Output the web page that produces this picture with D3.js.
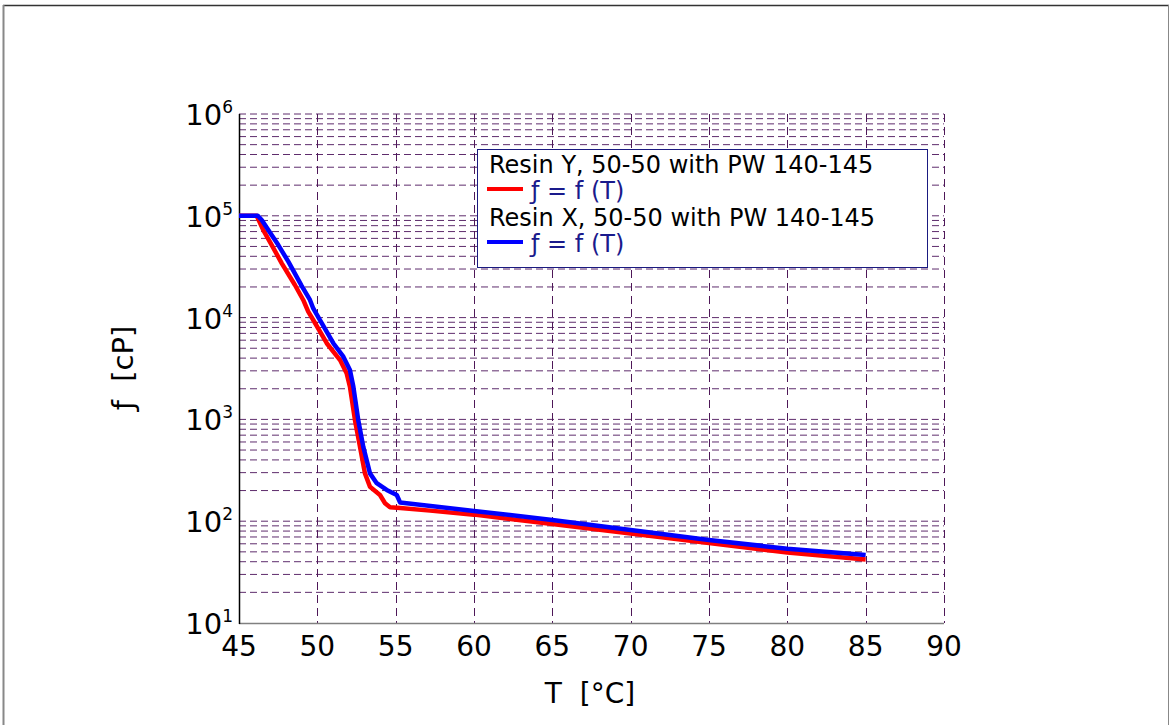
<!DOCTYPE html>
<html>
<head>
<meta charset="utf-8">
<script src="https://cdn.jsdelivr.net/npm/d3@7/dist/d3.min.js"></script>
<style>
  html, body { margin: 0; padding: 0; background: #ffffff; }
  svg { display: block; }
  text { font-family: "DejaVu Sans", sans-serif; }
</style>
</head>
<body>
<svg id="chart" width="1172" height="725"></svg>
<script>
// Viscosity vs temperature, two resin blends (50-50 with PW 140-145)
const tempY = [45, 46.13, 46.55, 47.09, 47.73, 48.57, 49.10, 49.42, 49.74, 50.60, 51.45, 51.87, 52.08, 52.40, 52.72, 53.04, 53.36, 54.00, 54.32, 54.64, 55.3, 57.2, 60, 65, 70, 75, 80, 85];
const viscY = [100000, 100000, 72400, 51600, 34100, 20900, 14900, 11430, 9470, 5600, 3830, 2840, 2095, 986, 540, 295, 218, 181, 150, 137, 135, 127, 116, 93.9, 75.7, 61.1, 49.3, 42.0];

const tempX = [45, 46.2, 46.45, 46.87, 47.51, 48.15, 49.0, 49.53, 49.74, 50.17, 51.02, 51.66, 52.08, 52.30, 52.61, 52.93, 53.36, 53.79, 54.43, 55.07, 55.28, 60, 65, 70, 75, 80, 85];
const viscX = [100000, 100000, 91000, 72400, 51600, 35400, 20500, 14900, 12300, 9470, 5600, 4130, 3055, 2095, 986, 540, 295, 236, 203, 181, 153, 126, 103, 81.9, 65.3, 53.7, 46.6];

const xTicks = [45, 50, 55, 60, 65, 70, 75, 80, 85, 90];
const yExponents = [1, 2, 3, 4, 5, 6];
const legendTitles = ["Resin Y, 50-50 with PW 140-145", "Resin X, 50-50 with PW 140-145"];
const legendLabel = "ƒ = f (T)";
const seriesColors = ["#ff0000", "#0000ff"];

const svg = d3.select("#chart");

const x = d3.scaleLinear().domain([45, 90]).range([239, 944]);
const y = d3.scaleLog().domain([10, 1e6]).range([623, 114]);

// outer frame
svg.append("line").attr("x1", 3).attr("x2", 1169).attr("y1", 5.5).attr("y2", 5.5)
  .attr("stroke", "#333").attr("stroke-width", 1.5);
svg.append("line").attr("x1", 3.5).attr("x2", 3.5).attr("y1", 5).attr("y2", 725)
  .attr("stroke", "#888").attr("stroke-width", 2);
svg.append("line").attr("x1", 1168.5).attr("x2", 1168.5).attr("y1", 5).attr("y2", 725)
  .attr("stroke", "#888").attr("stroke-width", 1);

// horizontal grid on every log step
const hVals = [];
for (let e = 1; e < 6; e++) {
  for (let m = 1; m <= 9; m++) {
    const v = m * Math.pow(10, e);
    if (v > 10) hVals.push(v);
  }
}
hVals.push(1e6);

const grid = svg.append("g");
grid.selectAll("line.h").data(hVals).join("line")
  .attr("class", "h")
  .attr("x1", x(45)).attr("x2", x(90))
  .attr("y1", d => y(d)).attr("y2", d => y(d))
  .attr("stroke", "#5e2c6c").attr("stroke-width", 1)
  .attr("stroke-dasharray", "7,4");

grid.selectAll("line.v").data(xTicks.filter(t => t > 45)).join("line")
  .attr("class", "v")
  .attr("x1", d => Math.round(x(d)) + 0.5).attr("x2", d => Math.round(x(d)) + 0.5)
  .attr("y1", y(1e6)).attr("y2", y(10))
  .attr("stroke", "#4e1858").attr("stroke-width", 1)
  .attr("stroke-dasharray", "8,5");

// axes lines
svg.append("line").attr("x1", x(45)).attr("x2", x(90)).attr("y1", y(10) + 0.5).attr("y2", y(10) + 0.5)
  .attr("stroke", "#808080").attr("stroke-width", 1.5);
svg.append("line").attr("x1", x(45) + 0.5).attr("x2", x(45) + 0.5).attr("y1", y(1e6)).attr("y2", y(10) + 1)
  .attr("stroke", "#000").attr("stroke-width", 1.5);

// x tick labels
svg.append("g").selectAll("text").data(xTicks).join("text")
  .attr("x", d => x(d)).attr("y", 656)
  .attr("text-anchor", "middle")
  .attr("font-size", 28).attr("fill", "#000")
  .text(d => d);

// y tick labels as powers of ten
const yl = svg.append("g").selectAll("text").data(yExponents).join("text")
  .attr("x", 233).attr("y", d => y(Math.pow(10, d)) + 11)
  .attr("text-anchor", "end").attr("fill", "#000");
yl.append("tspan").attr("font-size", 29).text("10");
yl.append("tspan").attr("font-size", 17).attr("dy", -12).text(d => d);

// axis titles
svg.append("text").attr("x", 590).attr("y", 703)
  .attr("text-anchor", "middle").attr("font-size", 28).attr("fill", "#000")
  .attr("xml:space", "preserve")
  .text("T  [°C]");
svg.append("text")
  .attr("transform", "translate(133,368) rotate(-90)")
  .attr("text-anchor", "middle").attr("font-size", 29).attr("fill", "#000")
  .attr("xml:space", "preserve")
  .text("ƒ  [cP]");

// curves
const line = d3.line().x(d => x(d[0])).y(d => y(d[1]));
const seriesY = tempY.map((t, i) => [t, viscY[i]]);
const seriesX = tempX.map((t, i) => [t, viscX[i]]);
[seriesY, seriesX].forEach((s, i) => {
  svg.append("path").datum(s)
    .attr("d", line)
    .attr("fill", "none")
    .attr("stroke", seriesColors[i])
    .attr("stroke-width", 4.5)
    .attr("stroke-linejoin", "round")
    .attr("stroke-linecap", "butt");
});

// legend
const lg = svg.append("g");
lg.append("rect").attr("x", 477.5).attr("y", 149.5).attr("width", 450).attr("height", 118)
  .attr("fill", "#fff").attr("stroke", "#1a1a80").attr("stroke-width", 1);
legendTitles.forEach((t, i) => {
  const base = 173 + i * 53;
  lg.append("text").attr("x", 489).attr("y", base)
    .attr("font-size", 24).attr("fill", "#000").text(t);
  lg.append("line").attr("x1", 487).attr("x2", 523)
    .attr("y1", base + 16).attr("y2", base + 16)
    .attr("stroke", seriesColors[i]).attr("stroke-width", 4);
  lg.append("text").attr("x", 531).attr("y", base + 26)
    .attr("font-size", 24).attr("fill", "#1a1a8c")
    .attr("xml:space", "preserve")
    .text(legendLabel);
});
</script>
</body>
</html>
